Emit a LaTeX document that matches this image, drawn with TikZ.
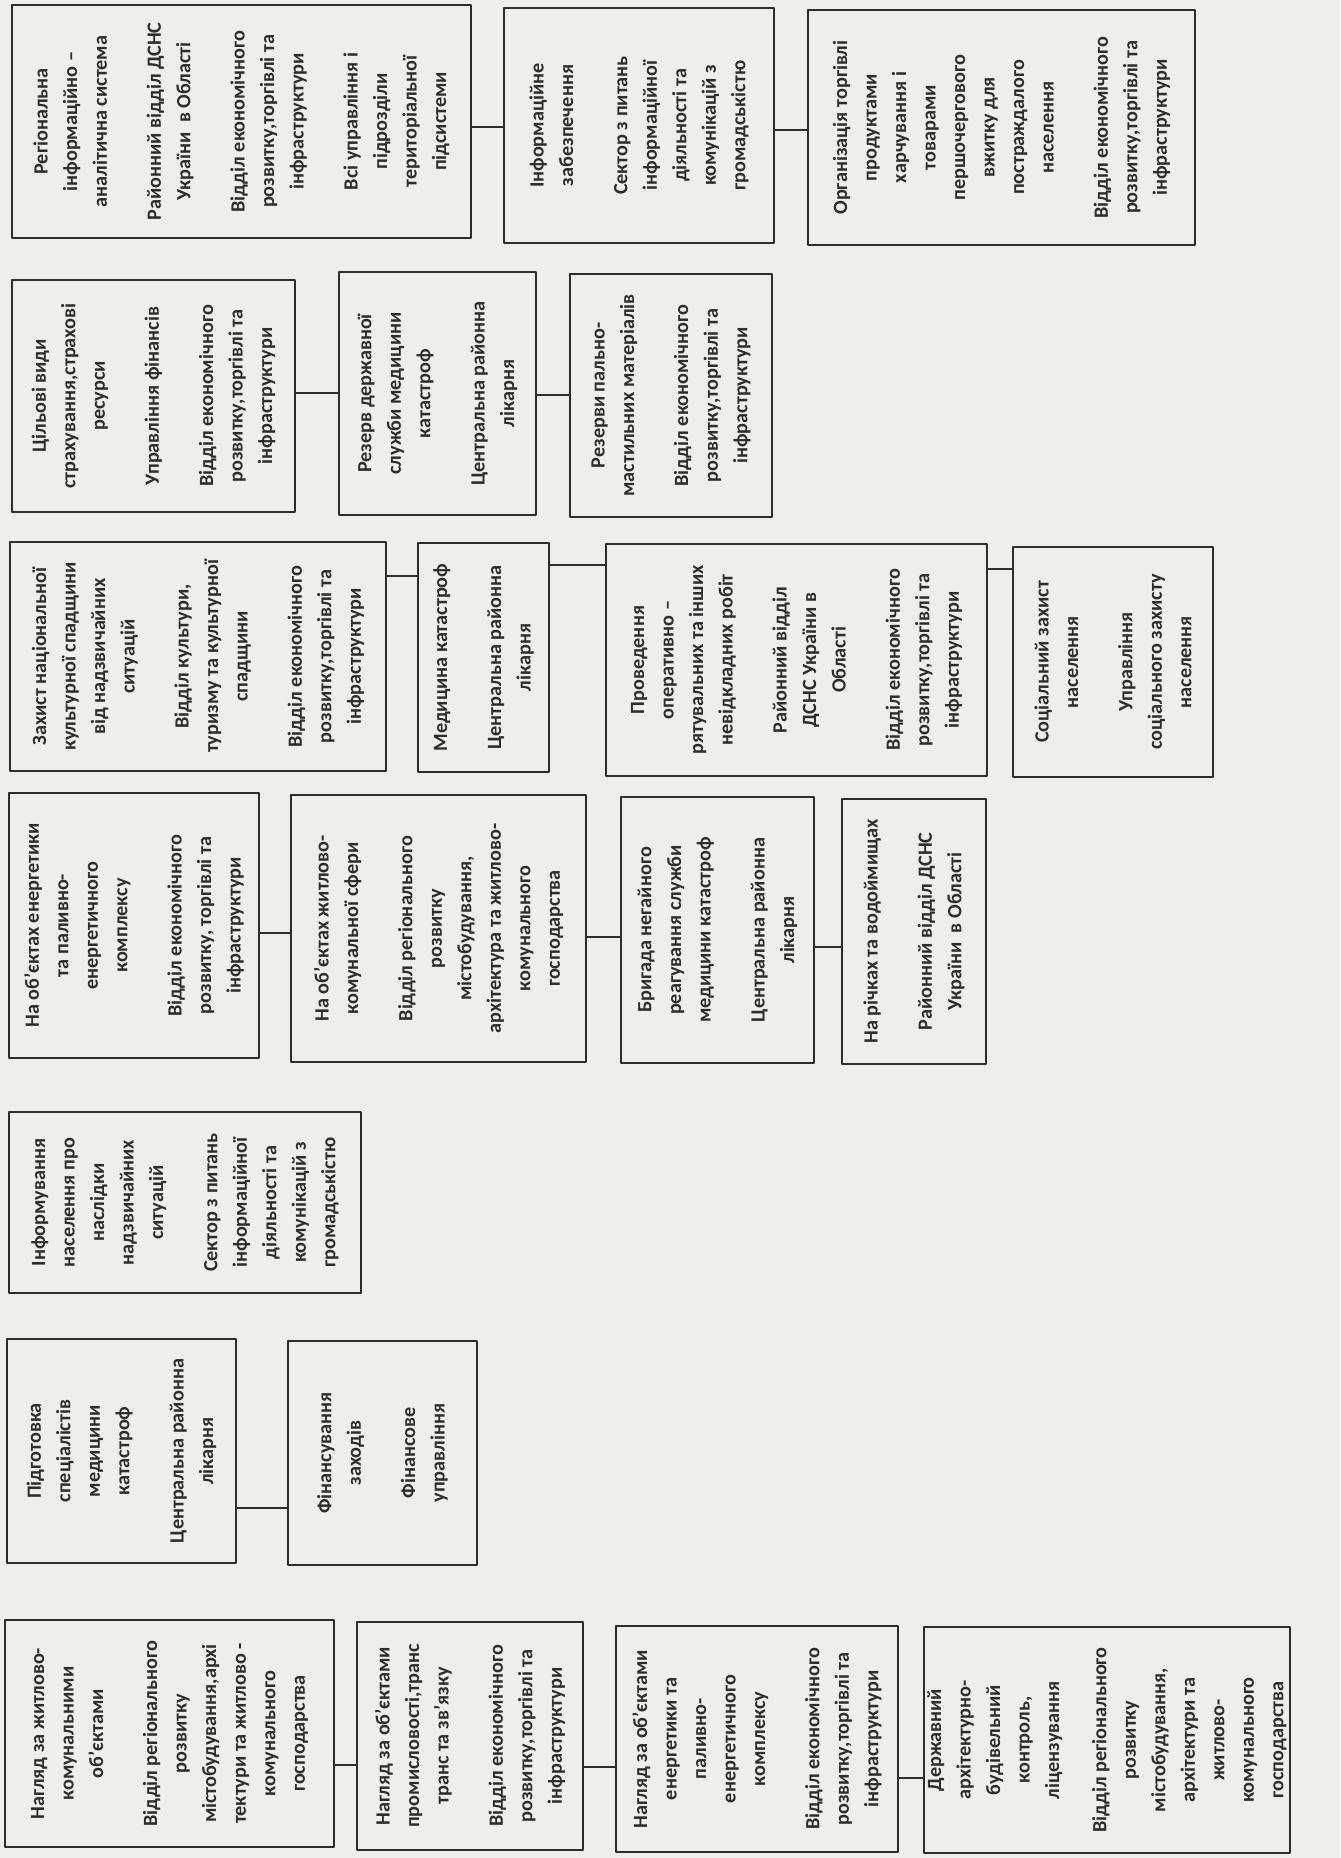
\documentclass[tikz,border=0pt]{standalone}
\usepackage{fontspec}
\setmainfont{Carlito}
\definecolor{paper}{RGB}{238,238,236}
\definecolor{ink}{RGB}{45,45,45}
\tikzset{
  box/.style={draw=ink,line width=0.8pt,rotate=90,align=center,inner sep=0pt,
    text=ink,font=\bfseries\fontsize{11.5}{16.8}\selectfont},
  link/.style={draw=ink,line width=0.8pt}
}
\begin{document}
\begin{tikzpicture}[x=0.02cm,y=-0.02cm,line cap=round,line join=round]
  \fill[paper] (0,0) rectangle (1340,1858);
  \useasboundingbox (0,0) rectangle (1340,1858);
  % first row
  \node[box,minimum width=4.66cm,minimum height=9.18cm] (reg) at (241.5,121.5)
    {Регіональна\\ інформаційно –\\ аналітична система\\[14pt] Районний відділ ДСНС\\ України\ \ в Області\\[14pt] Відділ економічного\\ розвитку,торгівлі та\\ інфраструктури\\[14pt] Всі управління і\\ підрозділи\\ територіальної\\ підсистеми};
  \node[box,minimum width=4.7cm,minimum height=5.4cm] (infz) at (639,125.5)
    {Інформаційне\\ забезпечення\\[14pt] Сектор з питань\\ інформаційної\\ діяльності та\\ комунікацій з\\ громадськістю};
  \node[box,minimum width=4.7cm,minimum height=7.74cm] (torg) at (1001.5,127.5)
    {Організація торгівлі\\ продуктами\\ харчування і\\ товарами\\ першочергового\\ вжитку для\\ постраждалого\\ населення\\[14pt] Відділ економічного\\ розвитку,торгівлі та\\ інфраструктури};
  \draw[link] (reg.south |- 0,127) -- (infz.north |- 0,127);
  \draw[link] (infz.south |- 0,130) -- (torg.north |- 0,130);
  % second row
  \node[box,minimum width=4.64cm,minimum height=5.66cm] (cil) at (153.5,396)
    {Цільові види\\ страхування,страхові\\ ресурси\\[14pt] Управління фінансів\\[14pt] Відділ економічного\\ розвитку,торгівлі та\\ інфраструктури};
  \node[box,minimum width=4.86cm,minimum height=3.94cm] (rezmed) at (437.5,393.5)
    {Резерв державної\\ служби медицини\\ катастроф\\[14pt] Центральна районна\\ лікарня};
  \node[box,minimum width=4.86cm,minimum height=4.04cm] (rezpal) at (671,395.5)
    {Резерви пально-\\ мастильних матеріалів\\[14pt] Відділ економічного\\ розвитку,торгівлі та\\ інфраструктури};
  \draw[link] (cil.south |- 0,393) -- (rezmed.north |- 0,393);
  \draw[link] (rezmed.south |- 0,395) -- (rezpal.north |- 0,395);
  % third row
  \node[box,minimum width=4.58cm,minimum height=7.52cm] (zakh) at (198,656.5)
    {Захист національної\\ культурної спадщини\\ від надзвичайних\\ ситуацій\\[14pt] Відділ культури,\\ туризму та культурної\\ спадщини\\[14pt] Відділ економічного\\ розвитку,торгівлі та\\ інфраструктури};
  \node[box,minimum width=4.58cm,minimum height=2.62cm] (medk) at (483.5,657.5)
    {Медицина катастроф\\[14pt] Центральна районна\\ лікарня};
  \node[box,minimum width=4.64cm,minimum height=7.62cm] (prov) at (796.5,660)
    {Проведення\\ оперативно –\\ рятувальних та інших\\ невідкладних робіт\\[14pt] Районний відділ\\ ДСНС України в\\ Області\\[14pt] Відділ економічного\\ розвитку,торгівлі та\\ інфраструктури};
  \node[box,minimum width=4.6cm,minimum height=4.0cm] (soc) at (1113,662)
    {Соціальний захист\\ населення\\[14pt] Управління\\ соціального захисту\\ населення};
  \draw[link] (zakh.south |- 0,576) -- (medk.north |- 0,576);
  \draw[link] (medk.south |- 0,565) -- (prov.north |- 0,565);
  \draw[link] (prov.south |- 0,569) -- (soc.north |- 0,569);
  % fourth row
  \node[box,minimum width=5.3cm,minimum height=5.0cm] (ener) at (134,925.5)
    {На об’єктах енергетики\\ та паливно-\\ енергетичного\\ комплексу\\[14pt] Відділ економічного\\ розвитку, торгівлі та\\ інфраструктури};
  \node[box,minimum width=5.34cm,minimum height=5.9cm] (zhytl) at (438.5,928.5)
    {На об’єктах житлово-\\ комунальної сфери\\[14pt] Відділ регіонального\\ розвитку\\ містобудування,\\ архітектура та житлово-\\ комунального\\ господарства};
  \node[box,minimum width=5.32cm,minimum height=3.86cm] (bryg) at (717.5,930)
    {Бригада негайного\\ реагування служби\\ медицини катастроф\\[14pt] Центральна районна\\ лікарня};
  \node[box,minimum width=5.3cm,minimum height=2.88cm] (richk) at (914,931.5)
    {На річках та водоймищах\\[14pt] Районний відділ ДСНС\\ України\ \ в Області};
  \draw[link] (ener.south |- 0,933) -- (zhytl.north |- 0,933);
  \draw[link] (zhytl.south |- 0,937) -- (bryg.north |- 0,937);
  \draw[link] (bryg.south |- 0,947) -- (richk.north |- 0,947);
  % fifth row
  \node[box,minimum width=3.62cm,minimum height=7.04cm] (infn) at (185,1202.5)
    {Інформування\\ населення про\\ наслідки\\ надзвичайних\\ ситуацій\\[14pt] Сектор з питань\\ інформаційної\\ діяльності та\\ комунікацій з\\ громадськістю};
  % sixth row
  \node[box,minimum width=4.48cm,minimum height=4.58cm] (pidg) at (121.5,1451)
    {Підготовка\\ спеціалістів\\ медицини\\ катастроф\\[14pt] Центральна районна\\ лікарня};
  \node[box,minimum width=4.48cm,minimum height=3.78cm] (fin) at (382.5,1453)
    {Фінансування\\ заходів\\[14pt] Фінансове\\ управління};
  \draw[link] (pidg.south |- 0,1508) -- (fin.north |- 0,1508);
  % last row
  \node[box,minimum width=4.54cm,minimum height=6.58cm] (nag1) at (169.5,1733.5)
    {Нагляд за житлово-\\ комунальними\\ об’єктами\\[14pt] Відділ регіонального\\ розвитку\\ містобудування,архі\\ тектури та житлово -\\ комунального\\ господарства};
  \node[box,minimum width=4.56cm,minimum height=4.52cm] (nag2) at (470,1736)
    {Нагляд за об’єктами\\ промисловості,транс\\ транс та зв’язку\\[14pt] Відділ економічного\\ розвитку,торгівлі та\\ інфраструктури};
  \node[box,minimum width=4.52cm,minimum height=5.64cm] (nag3) at (757,1739)
    {Нагляд за об’єктами\\ енергетики та\\ паливно-\\ енергетичного\\ комплексу\\[14pt] Відділ економічного\\ розвитку,торгівлі та\\ інфраструктури};
  \node[box,minimum width=4.52cm,minimum height=7.32cm] (derzh) at (1107,1740)
    {Державний\\ архітектурно-\\ будівельний\\ контроль,\\ ліцензування\\[10pt] Відділ регіонального\\ розвитку\\ містобудування,\\ архітектури та\\ житлово-\\ комунального\\ господарства};
  \draw[link] (nag1.south |- 0,1765) -- (nag2.north |- 0,1765);
  \draw[link] (nag2.south |- 0,1767) -- (nag3.north |- 0,1767);
  \draw[link] (nag3.south |- 0,1778) -- (derzh.north |- 0,1778);
\end{tikzpicture}
\end{document}
